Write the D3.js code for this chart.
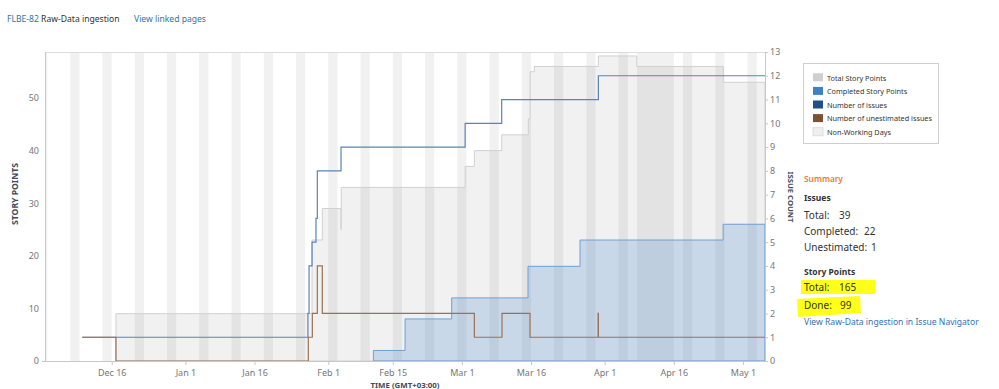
<!DOCTYPE html>
<html><head><meta charset="utf-8">
<script src="https://cdn.jsdelivr.net/npm/d3@7"></script>
<style>
body{margin:0;background:#fff;}
svg{display:block;font-family:"Segoe UI","Noto Sans","Open Sans",sans-serif;}
</style></head><body>
<svg id="c" width="999" height="389"></svg>
<script>
// ---------------- data ----------------
const domainStart = "2019-12-01 12:30";
const domainEnd   = "2020-05-05 19:00";

const totalDates  = ["2019-12-16 22:00","2020-01-28 11:30","2020-01-30 17:00","2020-02-03 18:30","2020-02-03 19:30","2020-03-01 17:00","2020-03-03 17:00","2020-03-09 15:30","2020-03-15 10:00","2020-03-15 19:00","2020-03-16 17:30","2020-03-30 15:00","2020-04-07 23:00","2020-04-26 18:00"];
const totalPoints = [9,23,29,25,33,37,40,43,46,55,56,58,56,53];

const completedDates  = ["2020-02-10 19:00","2020-02-17 16:00","2020-02-27 19:00","2020-03-15 08:30","2020-03-26 15:30","2020-04-26 17:00"];
const completedPoints = [2,8,12,18,23,26];

const issueDates  = ["2019-12-09 15:00","2020-01-27 14:00","2020-01-27 20:00","2020-01-28 11:30","2020-01-29 08:00","2020-01-29 15:00","2020-02-03 18:30","2020-03-01 17:00","2020-03-09 15:30","2020-03-30 15:00"];
const issueCounts = [1,2,4,5,6,8,9,10,11,12];

const unestDates  = ["2019-12-09 15:00","2019-12-16 22:00","2020-01-27 16:00","2020-01-28 13:00","2020-01-29 15:00","2020-01-30 17:00","2020-03-03 17:00","2020-03-09 17:00","2020-03-15 19:00","2020-03-30 13:30","2020-03-30 15:00"];
const unestCounts = [1,0,1,2,4,2,1,2,1,2,1];

const holidays = ["2020-04-08","2020-04-09","2020-04-10","2020-04-13","2020-04-14","2020-04-15"];

const xTickDates  = ["2019-12-16","2020-01-01","2020-01-16","2020-02-01","2020-02-15","2020-03-01","2020-03-16","2020-04-01","2020-04-16","2020-05-01"];
const xTickLabels = ["Dec 16","Jan 1","Jan 16","Feb 1","Feb 15","Mar 1","Mar 16","Apr 1","Apr 16","May 1"];
const leftTicks  = [0,10,20,30,40,50];
const rightTicks = [0,1,2,3,4,5,6,7,8,9,10,11,12,13];

const legendLabels = ["Total Story Points","Completed Story Points","Number of issues","Number of unestimated issues","Non-Working Days"];
const legendColors = ["#cfcfcf","#3f80c9","#1f4f86","#7b5331","#efefef"];

const summaryIssueLabels = ["Total:","Completed:","Unestimated:"];
const summaryIssueValues = ["39","22","1"];
const summaryPointLabels = ["Total:","Done:"];
const summaryPointValues = ["165","99"];

// ---------------- setup ----------------
const parseT = d3.timeParse("%Y-%m-%d %H:%M");
const parseD = d3.timeParse("%Y-%m-%d");
const svg = d3.select("#c");
const X0 = 45, X1 = 765, Y0 = 52, Y1 = 361;

const x = d3.scaleTime().domain([parseT(domainStart), parseT(domainEnd)]).range([X0, X1]);
const yL = d3.scaleLinear().domain([0, 58.75]).range([Y1, Y0]);
const yR = d3.scaleLinear().domain([0, 13]).range([Y1, Y0]);

function series(dates, vals){
  const s = dates.map((d,i)=>({date: parseT(d), v: vals[i]}));
  s.push({date: parseT(domainEnd), v: vals[vals.length-1]});
  return s;
}
const totalS = series(totalDates, totalPoints);
const compS  = series(completedDates, completedPoints);
const issS   = series(issueDates, issueCounts);
const unS    = series(unestDates, unestCounts);

svg.append("defs").append("clipPath").attr("id","pc")
  .append("rect").attr("x",X0).attr("y",Y0).attr("width",X1-X0).attr("height",Y1-Y0);
const plot = svg.append("g").attr("clip-path","url(#pc)");

// non-working days (weekends + holidays), merged into runs
const hol = new Set(holidays);
const days = d3.timeDay.range(d3.timeDay.floor(x.domain()[0]), x.domain()[1]);
const off = days.filter(d => d.getDay()===0 || d.getDay()===6 || hol.has(d3.timeFormat("%Y-%m-%d")(d)));
const runs = [];
off.forEach(d=>{
  const last = runs[runs.length-1];
  if(last && +last.end === +d) last.end = d3.timeDay.offset(d,1);
  else runs.push({start:d, end:d3.timeDay.offset(d,1)});
});
plot.selectAll("rect.nw").data(runs).join("rect").attr("class","nw")
  .attr("x",d=>x(d.start)).attr("width",d=>x(d.end)-x(d.start))
  .attr("y",Y0).attr("height",Y1-Y0).attr("fill","#f1f1f1");

// areas
const areaL = d3.area().curve(d3.curveStepAfter).x(d=>x(d.date)).y0(yL(0)).y1(d=>yL(d.v));
plot.append("path").datum(totalS).attr("d",areaL)
  .attr("fill","rgba(0,0,0,0.055)").attr("stroke","#d0d0d0").attr("stroke-width",1);
plot.append("path").datum(compS).attr("d",areaL)
  .attr("fill","rgba(110,160,212,0.30)").attr("stroke","#6f9fd4").attr("stroke-width",1);

// lines
const lineR = d3.line().curve(d3.curveStepAfter).x(d=>x(d.date)).y(d=>yR(d.v));
plot.append("path").datum(issS).attr("d",lineR).attr("fill","none")
  .attr("stroke","#5a83ba").attr("stroke-width",1.2);
plot.append("path").datum(unS).attr("d",lineR).attr("fill","none")
  .attr("stroke","#9a7253").attr("stroke-width",1.2);

// frame
svg.append("line").attr("x1",X0).attr("x2",X1).attr("y1",Y0+0.5).attr("y2",Y0+0.5).attr("stroke","#dcdcdc");

// axes
const axC = "#c8c8c8", lblC = "#777";
const gx = svg.append("g").attr("transform",`translate(0,${Y1})`)
  .call(d3.axisBottom(x).tickValues(xTickDates.map(parseD)).tickSize(4).tickPadding(5)
    .tickFormat((d,i)=>xTickLabels[i]));
const gl = svg.append("g").attr("transform",`translate(${X0},0)`)
  .call(d3.axisLeft(yL).tickValues(leftTicks).tickSize(0).tickPadding(6));
const gr = svg.append("g").attr("transform",`translate(${X1},0)`)
  .call(d3.axisRight(yR).tickValues(rightTicks).tickSize(3).tickPadding(2));
[gx,gl,gr].forEach(g=>{
  g.select(".domain").attr("stroke",axC);
  g.selectAll(".tick line").attr("stroke",axC);
  g.selectAll(".tick text").attr("fill",lblC).attr("font-size",9)
    .attr("font-family","'Segoe UI','Noto Sans','Open Sans',sans-serif");
});
gx.select(".domain").attr("d",`M${X0-3},0.5H${X1}`);

function fit(sel, w){
  const cur = parseFloat(sel.attr("font-size"));
  const len = sel.node().getComputedTextLength();
  if(len>0) sel.attr("font-size", (cur*w/len).toFixed(2));
  return sel;
}

// axis titles
const titleC = "#3d4b5c";
fit(svg.append("text").attr("transform","translate(17.5,194) rotate(-90)")
  .attr("text-anchor","middle").attr("font-size",9).attr("font-weight","bold")
  .attr("fill",titleC).text("STORY POINTS"), 62);
fit(svg.append("text").attr("transform","translate(787.5,197) rotate(90)")
  .attr("text-anchor","middle").attr("font-size",9).attr("font-weight","bold")
  .attr("fill",titleC).text("ISSUE COUNT"), 51);
fit(svg.append("text").attr("x",405).attr("y",388)
  .attr("text-anchor","middle").attr("font-size",9).attr("font-weight","bold")
  .attr("fill",titleC).text("TIME (GMT+03:00)"), 69);

// header
const hd = svg.append("text").attr("x",7).attr("y",22).attr("font-size",10.5);
hd.append("tspan").attr("fill","#3572b0").text("FLBE-82");
hd.append("tspan").attr("fill","#333").text(" Raw-Data ingestion");
fit(hd, 112.6);
fit(svg.append("text").attr("x",134).attr("y",22).attr("font-size",10.5)
  .attr("fill","#3572b0").text("View linked pages"), 72);

// legend
svg.append("rect").attr("x",803.5).attr("y",63.5).attr("width",135).attr("height",80)
  .attr("fill","#fff").attr("stroke","#cfcfcf");
const lg = svg.append("g");
const li = lg.selectAll("g").data(legendLabels).join("g")
  .attr("transform",(d,i)=>`translate(813,${77.3+i*13.6})`);
li.append("rect").attr("x",0).attr("y",-4).attr("width",10).attr("height",8)
  .attr("fill",(d,i)=>legendColors[i]).attr("stroke",(d,i)=>i===4?"#dedede":"none");
li.append("text").attr("x",14).attr("y",3.2).attr("font-size",8.5).attr("fill","#333").text(d=>d);
fit(li.filter((d,i)=>i===3).select("text"), 105);
const lfs = li.filter((d,i)=>i===3).select("text").attr("font-size");
li.selectAll("text").attr("font-size",lfs);

// summary
svg.append("rect").attr("x",801).attr("y",280).attr("width",74).attr("height",14).attr("fill","#ffff1a");
svg.append("path").attr("d","M797,299L860,296L861,313L798,317Z").attr("fill","#ffff1a");

const sx = 804;
fit(svg.append("text").attr("x",sx).attr("y",182).attr("font-size",11).attr("font-weight",600)
  .attr("fill","#f07a33").text("Summary"), 39);
svg.append("text").attr("x",sx).attr("y",201).attr("font-size",8.5).attr("font-weight","bold")
  .attr("fill","#333").text("Issues");
const issX = [839,864,871];
summaryIssueLabels.forEach((l,i)=>{
  const yy = 219+i*16;
  svg.append("text").attr("x",sx).attr("y",yy).attr("font-size",10).attr("fill","#333").text(l);
  svg.append("text").attr("x",issX[i]).attr("y",yy).attr("font-size",10).attr("fill","#333").text(summaryIssueValues[i]);
});
svg.append("text").attr("x",sx).attr("y",274.5).attr("font-size",8.5).attr("font-weight","bold")
  .attr("fill","#333").text("Story Points");
const spY = [291,308.5], spX = [839,840];
summaryPointLabels.forEach((l,i)=>{
  svg.append("text").attr("x",sx).attr("y",spY[i]).attr("font-size",10).attr("fill","#333").text(l);
  svg.append("text").attr("x",spX[i]).attr("y",spY[i]).attr("font-size",10).attr("fill","#333").text(summaryPointValues[i]);
});
fit(svg.append("text").attr("x",sx).attr("y",325).attr("font-size",10)
  .attr("fill","#3572b0").text("View Raw-Data ingestion in Issue Navigator"), 175);
</script>
</body></html>
